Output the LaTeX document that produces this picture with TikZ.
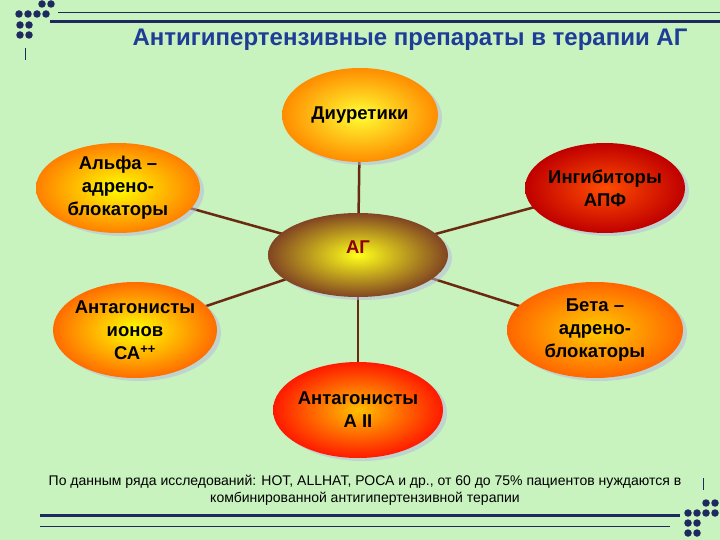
\documentclass[tikz,border=0pt]{standalone}
\usepackage{fontspec}
\setmainfont{Liberation Sans}
\usetikzlibrary{shapes.geometric,shadows}
\definecolor{bg}{HTML}{C8F2BE}
\definecolor{navy}{HTML}{1E2A5E}
\definecolor{ttl}{HTML}{1F3C96}
\definecolor{conn}{HTML}{6B2A10}
\begin{document}
\begin{tikzpicture}[x=1pt,y=-1pt,
 ov/.style={ellipse,minimum width=#1,inner sep=-20pt,align=center,font=\bfseries\fontsize{18.5}{23}\selectfont,drop shadow={shadow xshift=4pt,shadow yshift=-3pt,fill=gray!60!blue!40!white}},
 dot/.style={fill=navy,circle,inner sep=0pt,minimum size=7.5pt},
 cn/.style={conn,line width=2.5pt}]
\useasboundingbox (0,0) rectangle (720,540);
\fill[bg] (0,0) rectangle (720,540);
% decorations
\foreach \p in {(42,4),(51,4),(19,14),(28,14),(37,14),(46,14),(20,25),(29,25),(20,35),(29,35)} \node[dot] at \p {};
\foreach \p in {(706,503),(715,503),(688,513),(697,513),(706,513),(715,513),(688,523),(697,523),(688,533),(697,533)} \node[dot] at \p {};
\draw[navy,line width=0.6pt] (58,12) -- (720,12);
\draw[navy,line width=3pt] (50,22) -- (720,22);
\draw[navy,line width=3pt] (40,515) -- (680,515);
\draw[navy,line width=0.6pt] (40,526) -- (670,526);
\draw[navy,line width=0.5pt] (25,48) -- (25,60);
\draw[navy,line width=0.5pt] (703,478) -- (703,490);
\node[font=\bfseries\fontsize{24}{27}\selectfont,text=ttl] (t) at (410,40) {Антигипертензивные препараты в терапии АГ};
\coordinate (c) at (358,255);
\draw[cn] (c) -- (360,115);
\draw[cn] (c) -- (118,188);
\draw[cn] (c) -- (605,188);
\draw[cn] (c) -- (135,330);
\draw[cn] (c) -- (595,330);
\draw[cn] (c) -- (358,410);
\node[ov=156pt,minimum height=94pt,inner color=yellow!80!white,outer color=orange!90!yellow] (d) at (360,115) {Диуретики};
\node[ov=164pt,minimum height=90pt,inner color=yellow,outer color=orange] (a) at (118,188) {Альфа –\\адрено-\\блокаторы};
\node[ov=160pt,minimum height=90pt,inner color=red!70!yellow,outer color=red!75!black] (i) at (605,188) {Ингибиторы\\АПФ};
\node[ov=180pt,minimum height=84pt,inner color=yellow!90!white,outer color=brown!60!black!90!red] (ag) at (358,255) {\textcolor{red!55!black}{АГ}\\[-8pt]};
\node[ov=164pt,minimum height=96pt,inner color=yellow,outer color=orange!85!red] (ci) at (135,330) {Антагонисты\\ионов\\СА\textsuperscript{++}};
\node[ov=176pt,minimum height=96pt,inner color=orange!40!yellow,outer color=orange!80!red] (b) at (595,330) {Бета –\\адрено-\\блокаторы};
\node[ov=170pt,minimum height=96pt,inner color=orange!50!yellow,outer color=red!80!orange] (a2) at (358,410) {Антагонисты\\А II};
\node[font=\fontsize{14}{17}\selectfont,align=center] (f) at (365,490) {По данным ряда исследований: НОТ, ALLHAT, РОСА и др., от 60 до 75\% пациентов нуждаются в\\комбинированной антигипертензивной терапии};
\end{tikzpicture}
\end{document}
